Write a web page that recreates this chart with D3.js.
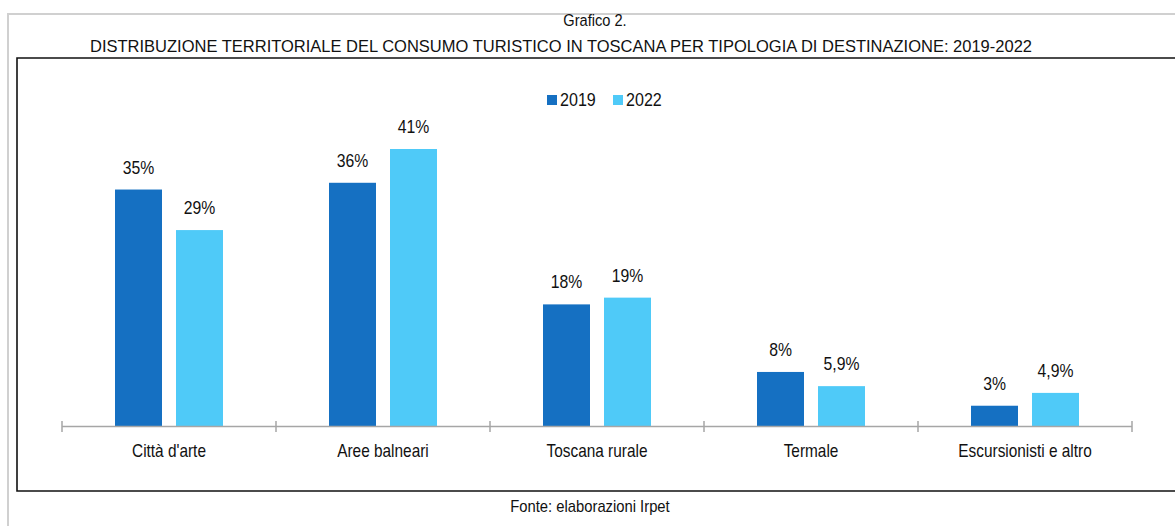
<!DOCTYPE html>
<html><head><meta charset="utf-8">
<script src="https://cdn.jsdelivr.net/npm/d3@7"></script>
<style>
html,body{margin:0;padding:0;background:#fff;}
svg text{font-family:"Liberation Sans Narrow","Arial Narrow","Liberation Sans",Arial,sans-serif;fill:#111;}
</style></head>
<body>
<svg id="c" width="1175" height="526"></svg>
<script>
const categories = ["Città d'arte","Aree balneari","Toscana rurale","Termale","Escursionisti e altro"];
const seriesNames = ["2019","2022"];
const values2019 = [35, 36, 18, 8, 3];
const values2022 = [29, 41, 19, 5.9, 4.9];
const labels2019 = ["35%","36%","18%","8%","3%"];
const labels2022 = ["29%","41%","19%","5,9%","4,9%"];
const colors = ["#1570C2","#4FCAF8"];

const svg = d3.select("#c");
function txt(parent, x, y, s, size, sx, anchor){
  return parent.append("text").attr("transform",`translate(${x},${y}) scale(${sx},1)`)
    .attr("text-anchor",anchor||"middle").style("font-size",size+"px").text(s);
}
// outer frame (light gray)
svg.append("path").attr("d","M8,526 L8,14 L1175,14").attr("fill","none").attr("stroke","#d0d0d0").attr("stroke-width",2);
// chart box
svg.append("path").attr("d","M1176,58 L17,58 L17,491 L1176,491").attr("fill","none").attr("stroke","#111").attr("stroke-width",1.6);

txt(svg,595,26,"Grafico 2.",17,0.86);
svg.append("text").attr("x",90).attr("y",52).attr("textLength",942).attr("lengthAdjust","spacingAndGlyphs")
  .style("font-size","17px").text("DISTRIBUZIONE TERRITORIALE DEL CONSUMO TURISTICO IN TOSCANA PER TIPOLOGIA DI DESTINAZIONE: 2019-2022");
txt(svg,590,512,"Fonte: elaborazioni Irpet",17,0.87);

const x = d3.scaleBand().domain(categories).range([62,1132]).paddingInner(0).paddingOuter(0);
const x1 = d3.scaleBand().domain(seriesNames).range([0,x.bandwidth()]).paddingInner(0.2295).paddingOuter(0.869);
const y = d3.scaleLinear().domain([0,41]).range([426,149]);

const data = categories.map((c,i)=>({c, vals:[
  {s:"2019",v:values2019[i],l:labels2019[i],col:colors[0]},
  {s:"2022",v:values2022[i],l:labels2022[i],col:colors[1]}]}));

const g = svg.append("g").selectAll("g").data(data).join("g").attr("transform",d=>`translate(${x(d.c)},0)`);
g.selectAll("rect").data(d=>d.vals).join("rect")
  .attr("x",d=>x1(d.s)).attr("width",x1.bandwidth())
  .attr("y",d=>y(d.v)).attr("height",d=>y(0)-y(d.v)).attr("fill",d=>d.col);
g.each(function(d){
  const gg = d3.select(this);
  d.vals.forEach(v=>txt(gg, x1(v.s)+x1.bandwidth()/2, y(v.v)-16, v.l, 17.5, 0.9));
});

// axis
const axisG = svg.append("g");
axisG.append("line").attr("x1",62).attr("x2",1132).attr("y1",426.5).attr("y2",426.5).attr("stroke","#a6a6a6").attr("stroke-width",1.5);
const tickPos = categories.map(c=>x(c)).concat([x.range()[1]]);
axisG.selectAll("line.t").data(tickPos).join("line").attr("class","t")
  .attr("x1",d=>d).attr("x2",d=>d).attr("y1",421).attr("y2",432).attr("stroke","#a6a6a6").attr("stroke-width",1.5);
categories.forEach(c=>txt(axisG, x(c)+x.bandwidth()/2, 457, c, 17.5, 0.88));

// legend
const leg = svg.append("g");
const legX = [547,613];
seriesNames.forEach((s,i)=>{
  leg.append("rect").attr("x",legX[i]).attr("y",95).attr("width",10).attr("height",10).attr("fill",colors[i]);
  txt(leg, legX[i]+13, 106, s, 17.5, 0.92, "start");
});
</script>
</body></html>
